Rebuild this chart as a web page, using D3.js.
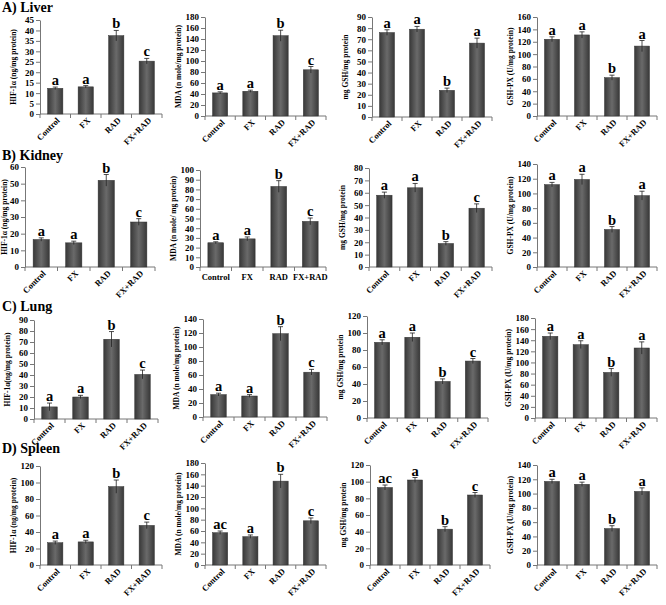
<!DOCTYPE html>
<html>
<head>
<meta charset="utf-8">
<script src="https://cdn.jsdelivr.net/npm/d3@7"></script>
<style>
  body { margin: 0; background: #fff; }
  svg text { font-family: "Liberation Serif", "Times New Roman", serif; font-weight: bold; }
</style>
</head>
<body>
<div id="viz"></div>
<script>
"use strict";

var groups = ["Control", "FX", "RAD", "FX+RAD"];
var organs = ["A) Liver", "B) Kidney", "C) Lung", "D) Spleen"];

// columns: HIF-1a, MDA, GSH, GSH-PX
var liverMeans = [[12.3, 13, 37.5, 25.3], [42, 45, 146, 84], [76, 79, 24, 66.5], [124, 131, 62, 113]];
var liverErrors = [[0.6, 0.6, 2.5, 1.3], [2, 2, 10, 6], [2.5, 2.5, 2, 4.5], [4, 5, 4, 9]];
var liverLetters = [["a", "a", "b", "c"], ["a", "a", "b", "c"], ["a", "a", "b", "a"], ["a", "a", "b", "a"]];
var liverAxisMax = [45, 180, 90, 160];
var liverAxisStep = [5, 20, 10, 20];

var kidneyMeans = [[16.5, 14.5, 52, 27], [25, 29, 83, 47], [58, 64, 19, 47.5], [112, 119, 51, 97]];
var kidneyErrors = [[1, 1, 3.5, 2], [1, 2, 6, 3.5], [2.5, 3.5, 1.5, 3.5], [3, 7, 4, 6]];
var kidneyLetters = [["a", "a", "b", "c"], ["a", "a", "b", "c"], ["a", "a", "b", "c"], ["a", "a", "b", "a"]];
var kidneyAxisMax = [60, 100, 80, 140];
var kidneyAxisStep = [10, 10, 10, 20];

var lungMeans = [[11, 20, 72.5, 40.5], [32, 30, 119, 64], [89, 95, 43, 67], [147, 132, 82, 126]];
var lungErrors = [[3.5, 1.5, 7, 4], [2, 2, 10, 4], [3, 5, 3, 3], [6, 7, 7, 11]];
var lungLetters = [["a", "a", "b", "c"], ["a", "a", "b", "c"], ["a", "a", "b", "c"], ["a", "a", "b", "a"]];
var lungAxisMax = [90, 140, 120, 180];
var lungAxisStep = [10, 20, 20, 20];

var spleenMeans = [[27, 28, 95, 48], [57, 50, 148, 78], [93, 102, 43, 84], [117, 113, 51, 103]];
var spleenErrors = [[2, 2, 8, 4], [3, 3, 12, 5], [3, 3, 3, 3], [3, 3, 4, 5]];
var spleenLetters = [["a", "a", "b", "c"], ["ac", "a", "b", "c"], ["ac", "a", "b", "c"], ["a", "a", "b", "a"]];
var spleenAxisMax = [120, 180, 120, 140];
var spleenAxisStep = [20, 20, 20, 20];

var yTitles = [
	["HIF-1\u03b1 (ng/mg protein)", "MDA (n mole/mg protein)", "mg GSH/mg protein", "GSH-PX  (U/mg protein)"],
	["HIF-1\u03b1 (ng/mg protein)", "MDA (n mole/ mg protein)", "mg GSH/mg protein", "GSH-PX (U/mg protein)"],
	["HIF-1\u03b1(ng/mg protein)", "MDA (n mole/mg protein)", "mg GSH/mg protein", "GSH-PX (U/mg protein)"],
	["HIF-1\u03b1 (ng/mg protein)", "MDA (n mole/mg protein)", "mg GSH/mg protein", "GSH-PX  (U/mg protein)"]
];

var rows = [
	{ means: liverMeans, errors: liverErrors, letters: liverLetters, max: liverAxisMax, step: liverAxisStep },
	{ means: kidneyMeans, errors: kidneyErrors, letters: kidneyLetters, max: kidneyAxisMax, step: kidneyAxisStep },
	{ means: lungMeans, errors: lungErrors, letters: lungLetters, max: lungAxisMax, step: lungAxisStep },
	{ means: spleenMeans, errors: spleenErrors, letters: spleenLetters, max: spleenAxisMax, step: spleenAxisStep }
];

// plot boxes: [axis x, right x, y of top tick, y of zero]
var boxes = [
	[[40, 162, 20, 114], [205, 326, 17, 116], [372, 492, 17, 117], [537, 657, 17, 116]],
	[[25, 155, 167, 267], [200, 326, 170, 267], [369, 492, 168, 267], [537, 657, 164, 267]],
	[[34, 158, 320, 419], [203, 327, 319, 417], [367, 488, 316, 418], [535, 657, 318, 418]],
	[[40, 162, 466, 565], [205, 326, 463, 565], [370, 490, 465, 565], [537, 657, 465, 565]]
];
var titleY = [12, 160, 311, 453];

var width = 666, height = 605;

var svg = d3.select("#viz").append("svg")
	.attr("width", width)
	.attr("height", height);

var grad = svg.append("defs").append("linearGradient")
	.attr("id", "barShade")
	.attr("x1", "0%").attr("x2", "100%")
	.attr("y1", "0%").attr("y2", "0%");
grad.append("stop").attr("offset", "0%").attr("stop-color", "#383838");
grad.append("stop").attr("offset", "50%").attr("stop-color", "#6a6a6a");
grad.append("stop").attr("offset", "100%").attr("stop-color", "#383838");

var drawPanel = function(r, c) {
	var row = rows[r],
		box = boxes[r][c],
		means = row.means[c],
		errors = row.errors[c],
		letters = row.letters[c],
		max = row.max[c],
		step = row.step[c],
		flatLabels = (r === 1 && c === 1)

	var x = d3.scaleBand().domain(groups).range([box[0], box[1]]).paddingInner(0.5).paddingOuter(0.25)
	var y = d3.scaleLinear().domain([0, max]).range([box[3], box[2]])

	var g = svg.append("g")

	// y axis
	var yAxis = d3.axisLeft(y)
		.tickValues(d3.range(0, max + step / 2, step))
		.tickSize(4)
		.tickSizeOuter(0)
		.tickPadding(2)
	var ya = g.append("g")
		.attr("transform", "translate(" + box[0] + ",0)")
		.call(yAxis)
	ya.selectAll("text").attr("font-size", "9px").attr("fill", "#000")
	ya.selectAll("line, path").attr("stroke", "#777")

	// x axis line with ticks between categories
	g.append("line")
		.attr("x1", box[0]).attr("x2", box[1])
		.attr("y1", box[3]).attr("y2", box[3])
		.attr("stroke", "#777")
	var bounds = groups.map(function(d) { return x(d) - x.step() * x.paddingInner() / 2 })
	bounds.push(box[1])
	g.selectAll(".xt").data(bounds).enter().append("line")
		.attr("x1", function(d) { return d }).attr("x2", function(d) { return d })
		.attr("y1", box[3]).attr("y2", box[3] + 4)
		.attr("stroke", "#777")

	// bars
	g.selectAll("rect.bar").data(groups).enter().append("rect")
		.attr("class", "bar")
		.attr("x", function(d) { return x(d) })
		.attr("width", x.bandwidth())
		.attr("y", function(d, i) { return y(means[i]) })
		.attr("height", function(d, i) { return box[3] - y(means[i]) })
		.attr("fill", "url(#barShade)")
		.attr("stroke", "#333")
		.attr("stroke-width", 0.5)

	// error bars
	var eb = g.selectAll("g.err").data(groups).enter().append("g")
	eb.append("line")
		.attr("x1", function(d) { return x(d) + x.bandwidth() / 2 })
		.attr("x2", function(d) { return x(d) + x.bandwidth() / 2 })
		.attr("y1", function(d, i) { return y(means[i] - errors[i]) })
		.attr("y2", function(d, i) { return y(means[i] + errors[i]) })
		.attr("stroke", "#222").attr("stroke-width", 0.8)
	eb.append("line")
		.attr("x1", function(d) { return x(d) + x.bandwidth() / 2 - 2.5 })
		.attr("x2", function(d) { return x(d) + x.bandwidth() / 2 + 2.5 })
		.attr("y1", function(d, i) { return y(means[i] + errors[i]) })
		.attr("y2", function(d, i) { return y(means[i] + errors[i]) })
		.attr("stroke", "#222").attr("stroke-width", 0.8)

	// significance letters
	g.selectAll("text.sig").data(groups).enter().append("text")
		.attr("class", "sig")
		.attr("x", function(d) { return x(d) + x.bandwidth() / 2 })
		.attr("y", function(d, i) { return y(means[i] + errors[i]) - 2 })
		.attr("text-anchor", "middle")
		.attr("font-size", "14.5px")
		.text(function(d, i) { return letters[i] })

	// category labels
	var labels = g.selectAll("text.cat").data(groups).enter().append("text")
		.attr("class", "cat")
		.attr("font-size", "8.5px")
		.text(function(d) { return d })
	if (flatLabels) {
		labels.attr("text-anchor", "middle")
			.attr("x", function(d) { return x(d) + x.bandwidth() / 2 })
			.attr("y", box[3] + 13)
	} else {
		labels.attr("text-anchor", "end")
			.attr("transform", function(d) {
				return "translate(" + (x(d) + x.bandwidth() / 2 + 5) + "," + (box[3] + 7) + ") rotate(-45)"
			})
	}

	// y title
	var tx = box[0] - (r === 1 && c === 0 ? 18 : 24)
	g.append("text")
		.attr("text-anchor", "middle")
		.attr("font-size", "7.5px")
		.attr("transform", "translate(" + tx + "," + ((box[2] + box[3]) / 2) + ") rotate(-90)")
		.text(yTitles[r][c])
}

organs.forEach(function(name, r) {
	svg.append("text")
		.attr("x", 2)
		.attr("y", titleY[r])
		.attr("font-size", "14px")
		.text(name)
	for (var c = 0; c < 4; c++) drawPanel(r, c)
})
</script>
</body>
</html>
